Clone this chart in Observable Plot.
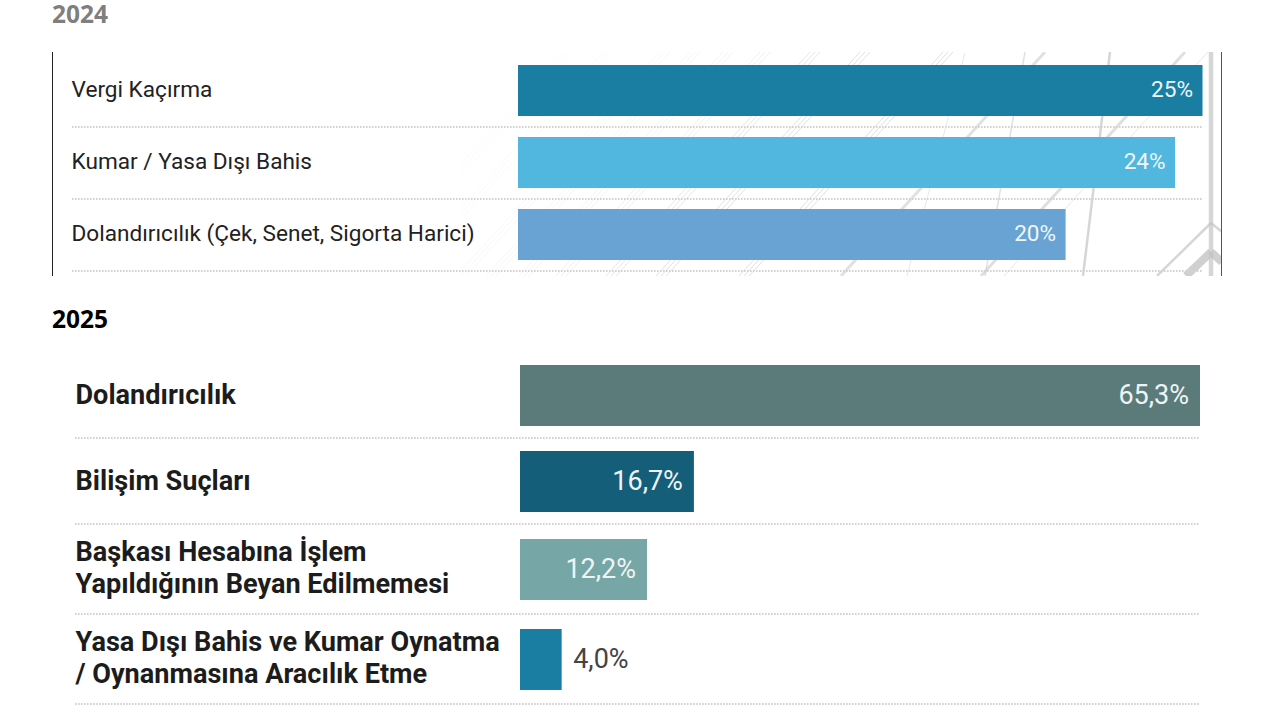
<!DOCTYPE html>
<html><head><meta charset="utf-8">
<script src="https://cdn.jsdelivr.net/npm/d3@7"></script>
<script src="https://cdn.jsdelivr.net/npm/@observablehq/plot@0.6"></script>
<style>
html,body{margin:0;padding:0;background:#fff;width:1280px;height:720px;overflow:hidden}
.title{position:absolute;left:52px;font:700 24.5px "Open Sans",sans-serif;line-height:28px}
.chart{position:absolute;left:0}
#frame{position:absolute;left:52px;top:52px;width:1167.5px;height:224px;border-left:1.5px solid #222;border-right:1.5px solid #555}
#deco{position:absolute;left:460px;top:52px;width:761px;height:224px;background-repeat:no-repeat}
</style></head><body>
<div id="deco"></div><div id="frame"></div>
<div class="title" style="top:0;color:#7f7f7f">2024</div>
<div class="title" style="top:305px;color:#000">2025</div>
<div class="chart" id="c24" style="top:52px"></div>
<div class="chart" id="c25" style="top:350px"></div>
<script>
const categories2024 = ["Vergi Kaçırma", "Kumar / Yasa Dışı Bahis", "Dolandırıcılık (Çek, Senet, Sigorta Harici)"];
const values2024 = [25, 24, 20];
const colors2024 = ["#1a7ea3", "#51b7df", "#68a3d4"];
const categories2025 = ["Dolandırıcılık", "Bilişim Suçları", "Başkası Hesabına İşlem\nYapıldığının Beyan Edilmemesi", "Yasa Dışı Bahis ve Kumar Oynatma\n/ Oynanmasına Aracılık Etme"];
const values2025 = [65.3, 16.7, 12.2, 4.0];
const colors2025 = ["#5b7b7a", "#155e7a", "#76a6a5", "#1a7ea3"];
const fmt1 = v => v.toFixed(1).replace(".", ",") + "%";
const fmt0 = v => v + "%";
const rows = (c, v, k) => c.map((name, i) => ({name, value: v[i], color: k[i]}));

// faint watermark behind the 2024 panel (a page background, not chart data)
(function () {
  const ox = 460, oy = 52, seg = [];
  const ln = (x1, y1, x2, y2, w, o) => seg.push(`<line x1='${x1 - ox}' y1='${y1 - oy}' x2='${x2 - ox}' y2='${y2 - oy}' stroke='%23c4c4c4' stroke-width='${w}' stroke-opacity='${o}'/>`);
  const hatch = (x, o) => [-5, 0, 5].forEach(d => ln(x + d + 68, 52, x + d - 136, 276, 1, o));
  [[500, .07], [540, .09], [597, .12], [627, .15], [660, .2], [697, .28], [747, .42], [797, .5], [880, .55]].forEach(h => hatch(h[0], h[1]));
  ln(1045, 52, 841, 276, 3, .5);
  ln(1185, 52, 981, 276, 3, .55);
  ln(1208, 52, 1004, 276, 1, .4);
  ln(965, 53, 907, 276, 1, .4);
  ln(1025, 52, 985, 276, 1.5, .5);
  ln(1110, 52, 1083, 276, 2.5, .7);
  ln(1211, 52, 1211, 276, 4.5, .7);
  ln(1211, 223, 1157, 276, 2.5, .7);
  ln(1211, 223, 1222, 232, 2.5, .7);
  ln(1211, 252, 1186, 276, 8, .8);
  ln(1211, 252, 1222, 262, 8, .8);
  const svg = `<svg xmlns='http://www.w3.org/2000/svg' width='761' height='224'>${seg.join("")}</svg>`;
  document.getElementById("deco").style.backgroundImage = `url("data:image/svg+xml,${svg}")`;
})();

const font = "Roboto, sans-serif";
const base = {style: {background: "transparent", overflow: "visible"}, width: 1280};
const rule = {stroke: "#d2d2d2", strokeWidth: 2, strokeDasharray: "1.6 1.4"};

const p24 = rows(categories2024, values2024, colors2024);
document.getElementById("c24").append(Plot.plot({
  ...base, height: 224, marginTop: 2.5, marginBottom: 5.5, marginLeft: 72, marginRight: 78,
  x: {domain: [0, 25], range: [518, 1202.5], axis: null},
  y: {domain: categories2024, paddingInner: 0.2917, paddingOuter: 0.1458, axis: null},
  marks: [
    Plot.ruleY(p24, {y: "name", dy: 36, ...rule}),
    Plot.barX(p24, {y: "name", x: "value", fill: d => d.color}),
    Plot.text(p24, {y: "name", text: "name", frameAnchor: "left", textAnchor: "start", dx: -1, dy: -1, fontFamily: font, fontSize: 22.6, fill: "#222"}),
    Plot.text(p24, {y: "name", x: "value", text: d => fmt0(d.value), textAnchor: "end", dx: -10, dy: -1, fontFamily: font, fontSize: 22.6, fill: "#eef6fa"})
  ]
}));

// The 2025 rows in the picture are not evenly spaced, so each row gets its own small shift.
const p25 = rows(categories2025, values2025, colors2025);
const rowShift = [-1, -3, -3, -1];
const ruleShift = [-3, -5, -3, -1];
const labelShift = [-3, -5, -6, -4];
document.getElementById("c25").append(Plot.plot({
  ...base, height: 370, marginTop: 1.5, marginBottom: 14.5, marginLeft: 75, marginRight: 80,
  x: {domain: [0, 65.3], range: [520, 1200], axis: null},
  y: {domain: categories2025, paddingInner: 0.307, paddingOuter: 0.1535, axis: null},
  marks: p25.flatMap((r, i) => [
    Plot.ruleY([r], {y: "name", dy: 44 + ruleShift[i], ...rule}),
    Plot.barX([r], {y: "name", x: "value", dy: rowShift[i], fill: d => d.color}),
    Plot.text([r], {y: "name", text: "name", frameAnchor: "left", textAnchor: "start", dy: labelShift[i], lineHeight: 1.18, fontFamily: font, fontWeight: 700, fontSize: 27.1, fill: "#1c1c1c"}),
    r.value >= 10
      ? Plot.text([r], {y: "name", x: "value", text: d => fmt1(d.value), textAnchor: "end", dx: -11.5, dy: rowShift[i] - 0.5, fontFamily: font, fontSize: 27, fill: "#eef4f4"})
      : Plot.text([r], {y: "name", x: "value", text: d => fmt1(d.value), textAnchor: "start", dx: 11, dy: rowShift[i] - 0.5, fontFamily: font, fontSize: 27, fill: "#444"})
  ])
}));
</script>
</body></html>
